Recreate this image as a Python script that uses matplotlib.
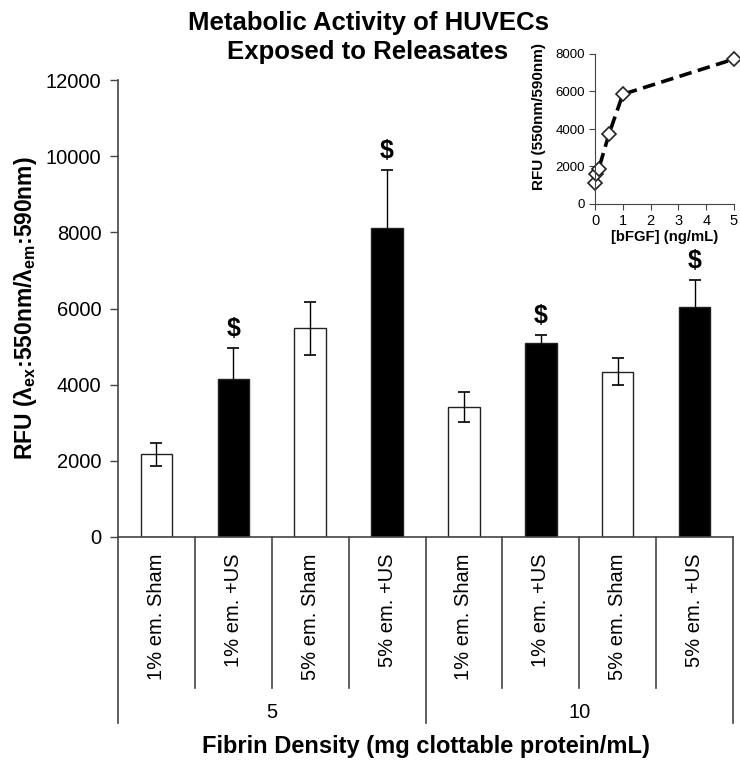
import numpy as np
import matplotlib
matplotlib.use("Agg")
import matplotlib.pyplot as plt
import matplotlib.transforms as mtransforms

plt.rcParams['font.family'] = ['Liberation Sans', 'DejaVu Sans']
plt.rcParams['mathtext.fontset'] = 'custom'
plt.rcParams['mathtext.rm'] = 'Liberation Sans:bold'
plt.rcParams['mathtext.it'] = 'Liberation Sans:bold'
plt.rcParams['mathtext.bf'] = 'Liberation Sans:bold'

# main bar data
categories = ["1% em. Sham", "1% em. +US", "5% em. Sham", "5% em. +US",
              "1% em. Sham", "1% em. +US", "5% em. Sham", "5% em. +US"]
rfu = [2170, 4150, 5480, 8120, 3410, 5090, 4340, 6030]
rfu_err = [300, 810, 690, 1510, 400, 220, 350, 725]
is_us = [False, True, False, True, False, True, False, True]
signif = [False, True, False, True, False, True, False, True]
groups = ["5", "10"]
title_lines = ["Metabolic Activity of HUVECs", "Exposed to Releasates"]

# inset standard curve
bfgf = [0, 0.03, 0.13, 0.5, 1, 5]
std_rfu = [1100, 1580, 1850, 3720, 5850, 7730]

W, H = 740, 760
fig = plt.figure(figsize=(W / 100, H / 100), dpi=100)
ax = fig.add_axes([118 / W, 1 - 537 / H, 615 / W, (537 - 80) / H])

x = np.arange(len(categories))
colors = ['black' if u else 'white' for u in is_us]
ax.bar(x, rfu, width=0.41, color=colors, edgecolor='#222222', linewidth=1.0, zorder=2)
ax.errorbar(x, rfu, yerr=rfu_err, fmt='none', ecolor='black', elinewidth=1.0,
            capsize=4, capthick=1.2, zorder=3)
for xi, v, e, s in zip(x, rfu, rfu_err, signif):
    if s:
        ax.annotate("$", (xi, v + e), xytext=(0, 5), textcoords='offset points',
                    ha='center', va='bottom', fontsize=18, fontweight='bold')

ax.set_xlim(-0.5, len(categories) - 0.5)
ax.set_ylim(0, 12000)
ax.set_yticks(np.arange(0, 12001, 2000))
ax.tick_params(axis='y', labelsize=14.5, length=6, width=1, color='#444444', pad=6)
ax.set_xticks(x)
ax.set_xticklabels(categories, rotation=90, fontsize=14.5, va='top')
ax.tick_params(axis='x', length=0, pad=12)
for sp in ['top', 'right']:
    ax.spines[sp].set_visible(False)
for sp in ['left', 'bottom']:
    ax.spines[sp].set_color('#444444')
    ax.spines[sp].set_linewidth(1.2)

ax.set_ylabel("RFU (λ$_{ex}$:550nm/λ$_{em}$:590nm)", fontsize=16.5, fontweight='bold',
              labelpad=5)

# category / group dividers below axis
trans = mtransforms.blended_transform_factory(ax.transData, ax.transAxes)
n_per = len(categories) // len(groups)
for b in np.arange(-0.5, len(categories), 1.0):
    outer = (b + 0.5) % n_per == 0
    y_end = -0.407 if outer else -0.330
    ax.plot([b, b], [0, y_end], transform=trans, color='#444444', lw=1.2, clip_on=False)
for gi, g in enumerate(groups):
    ax.text(gi * n_per + (n_per - 1) / 2, -0.383, g, transform=trans,
            ha='center', va='center', fontsize=14.5)

fig.text(426 / W, 1 - 746 / H, "Fibrin Density (mg clottable protein/mL)",
         ha='center', va='center', fontsize=17, fontweight='bold')
for line, ypx in zip(title_lines, [23, 52]):
    fig.text(368 / W, 1 - ypx / H, line, ha='center', va='center',
             fontsize=18.5, fontweight='bold')

# inset
ins = fig.add_axes([595 / W, 1 - 204 / H, 139 / W, 150 / H])
ins.plot(bfgf, std_rfu, linestyle=(0, (3.5, 1.8)), color='black', lw=2.6,
         marker='D', markersize=7.5, markerfacecolor='white', markeredgecolor='#222222',
         markeredgewidth=1.2)
ins.set_xlim(0, 5)
ins.set_ylim(0, 8000)
ins.set_xticks(range(0, 6))
ins.set_yticks(np.arange(0, 8001, 2000))
ins.tick_params(labelsize=9.5, length=4, color='#444444', pad=3)
ins.tick_params(axis='x', labelsize=10.5)
for sp in ['top', 'right']:
    ins.spines[sp].set_visible(False)
for sp in ['left', 'bottom']:
    ins.spines[sp].set_color('#444444')
ins.set_xlabel("[bFGF] (ng/mL)", fontsize=10.7, fontweight='bold', labelpad=2)
ins.set_ylabel("RFU (550nm/590nm)", fontsize=11, fontweight='bold')
ins.yaxis.set_label_coords(-0.35, 0.58)
for m in ins.lines:
    m.set_clip_on(False)

fig.savefig("out.png", dpi=100)
